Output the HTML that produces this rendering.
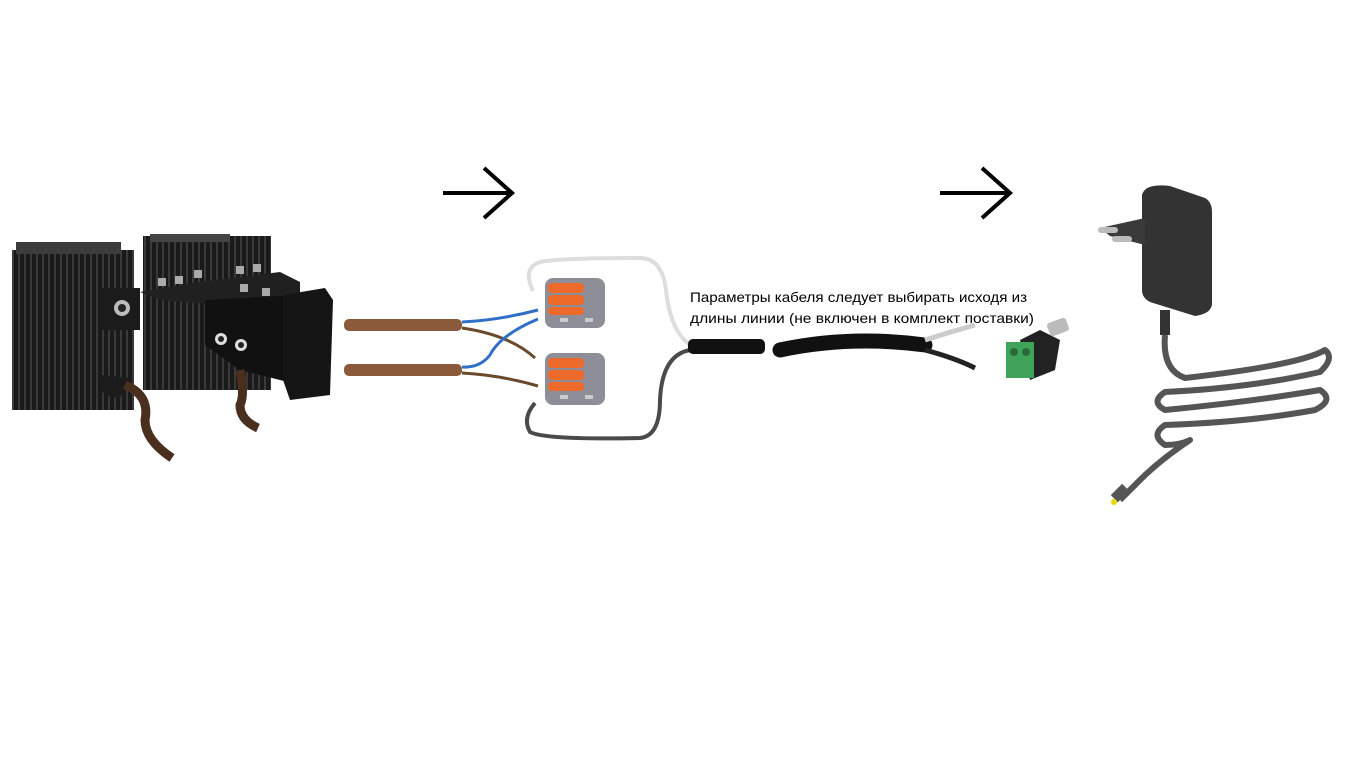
<!DOCTYPE html>
<html><head><meta charset="utf-8"><style>
html,body{margin:0;padding:0;background:#fff;width:1366px;height:768px;overflow:hidden}
</style></head><body>
<svg width="1366" height="768" viewBox="0 0 1366 768" xmlns="http://www.w3.org/2000/svg">
<defs>
<pattern id="fins" width="6" height="10" patternUnits="userSpaceOnUse">
<rect width="6" height="10" fill="#1a1a1a"/><rect width="2" height="10" fill="#3a3a3a"/>
</pattern>
</defs>
<g stroke="#000" stroke-width="4" fill="none">
<line x1="443" y1="193" x2="512" y2="193"/><polyline points="484,168 512,193 484,218"/>
<line x1="940" y1="193" x2="1010" y2="193"/><polyline points="982,168 1010,193 982,218"/>
</g>
<rect x="143" y="236" width="128" height="154" fill="url(#fins)"/>
<rect x="150" y="234" width="80" height="8" fill="#444"/>
<rect x="12" y="250" width="122" height="160" fill="url(#fins)"/>
<rect x="16" y="242" width="105" height="12" fill="#3c3c3c"/>
<rect x="98" y="288" width="42" height="42" fill="#1b1b1b"/>
<circle cx="122" cy="308" r="8" fill="#bbb"/><circle cx="122" cy="308" r="4" fill="#222"/>
<path d="M140,292 L200,282 L280,272 L300,282 L300,300 L230,306 L160,300 Z" fill="#202020"/>
<path d="M205,300 L300,295 L300,385 L240,370 L205,345 Z" fill="#111"/>
<path d="M283,295 L325,288 L333,300 L330,395 L290,400 L283,380 Z" fill="#151515"/>
<circle cx="221" cy="339" r="6" fill="#ddd"/><circle cx="221" cy="339" r="3" fill="#222"/>
<circle cx="241" cy="345" r="6" fill="#ddd"/><circle cx="241" cy="345" r="3" fill="#222"/>
<g fill="#aaa"><rect x="158" y="278" width="8" height="8"/><rect x="175" y="276" width="8" height="8"/><rect x="194" y="270" width="8" height="8"/><rect x="236" y="266" width="8" height="8"/><rect x="253" y="264" width="8" height="8"/><rect x="240" y="284" width="8" height="8"/><rect x="262" y="288" width="8" height="8"/></g>
<path d="M100,375 Q95,398 120,398 L130,378 Z" fill="#1c1c1c"/>
<path d="M125,385 Q150,395 145,420 Q145,440 172,458" stroke="#4a2e1e" stroke-width="9" fill="none"/>
<path d="M240,370 Q245,395 240,405 Q240,420 258,428" stroke="#4a2e1e" stroke-width="9" fill="none"/>
<rect x="344" y="319" width="118" height="12" rx="5" fill="#8a5a3a"/>
<rect x="344" y="364" width="118" height="12" rx="5" fill="#8a5a3a"/>
<g fill="none" stroke-width="3">
<path d="M462,322 Q500,320 538,310" stroke="#2f6fc8"/>
<path d="M462,328 Q510,335 535,358" stroke="#6a4a2a"/>
<path d="M538,319 Q500,335 490,355 Q480,368 462,367" stroke="#2f6fc8"/>
<path d="M462,373 Q500,375 538,386" stroke="#6a4a2a"/>
<path d="M533,291 Q522,268 540,262 Q560,258 640,258 Q662,258 666,290 Q670,330 690,345" stroke="#ddd" stroke-width="4"/>
<path d="M535,403 Q522,418 530,432 Q545,440 640,438 Q660,436 660,400 Q662,355 690,350" stroke="#4a4a4a" stroke-width="4"/>
</g>
<g>
<rect x="545" y="278" width="60" height="50" rx="8" fill="#8e8e98"/>
<rect x="548" y="283" width="36" height="10" rx="4" fill="#ee6a2a"/><rect x="548" y="295" width="36" height="10" rx="4" fill="#ee6a2a"/><rect x="548" y="307" width="36" height="8" rx="4" fill="#ee6a2a"/>
<rect x="560" y="318" width="8" height="4" fill="#ccc"/><rect x="585" y="318" width="8" height="4" fill="#ccc"/>
<rect x="545" y="353" width="60" height="52" rx="8" fill="#8e8e98"/>
<rect x="548" y="358" width="36" height="10" rx="4" fill="#ee6a2a"/><rect x="548" y="370" width="36" height="10" rx="4" fill="#ee6a2a"/><rect x="548" y="382" width="36" height="9" rx="4" fill="#ee6a2a"/>
<rect x="560" y="395" width="8" height="4" fill="#ccc"/><rect x="585" y="395" width="8" height="4" fill="#ccc"/>
</g>
<rect x="688" y="339" width="77" height="15" rx="5" fill="#111"/>
<path d="M780,350 Q850,335 925,345" stroke="#111" stroke-width="15" fill="none" stroke-linecap="round"/>
<path d="M925,340 Q950,332 975,325" stroke="#ccc" stroke-width="5" fill="none"/>
<path d="M925,350 Q955,358 975,368" stroke="#222" stroke-width="5" fill="none"/>
<text x="690" y="302" font-family="Liberation Sans, sans-serif" font-size="14" textLength="337" lengthAdjust="spacingAndGlyphs">Параметры кабеля следует выбирать исходя из</text>
<text x="690" y="323" font-family="Liberation Sans, sans-serif" font-size="14" textLength="344" lengthAdjust="spacingAndGlyphs">длины линии (не включен в комплект поставки)</text>
<path d="M1020,340 L1040,330 L1060,340 L1055,370 L1030,380 Z" fill="#222"/>
<rect x="1048" y="320" width="20" height="14" rx="3" fill="#bbb" transform="rotate(-20 1058 327)"/>
<rect x="1006" y="342" width="28" height="36" fill="#3fa45a"/>
<circle cx="1014" cy="352" r="4" fill="#2a6a3a"/><circle cx="1026" cy="352" r="4" fill="#2a6a3a"/>
<path d="M1142,195 Q1145,183 1170,186 L1205,198 Q1212,202 1212,212 L1212,305 Q1210,314 1195,316 L1150,302 Q1142,298 1142,290 Z" fill="#333"/>
<path d="M1100,228 L1145,218 L1145,245 L1110,236 Z" fill="#3a3a3a"/>
<rect x="1098" y="227" width="20" height="6" rx="3" fill="#bbb"/><rect x="1112" y="236" width="20" height="6" rx="3" fill="#bbb"/>
<rect x="1160" y="310" width="10" height="25" fill="#333"/>
<path d="M1165,335 Q1162,370 1185,378 Q1300,365 1325,350 Q1335,358 1320,372 Q1250,388 1165,392 Q1150,402 1165,410 Q1250,402 1320,390 Q1335,400 1315,410 Q1250,422 1165,425 Q1150,435 1165,445 Q1180,445 1190,440 Q1160,460 1140,480 L1120,500" stroke="#555" stroke-width="6" fill="none" stroke-linejoin="round"/>
<rect x="1112" y="488" width="16" height="10" fill="#555" transform="rotate(-45 1120 493)"/>
<circle cx="1114" cy="502" r="3" fill="#e8d800"/>
</svg>
</body></html>
